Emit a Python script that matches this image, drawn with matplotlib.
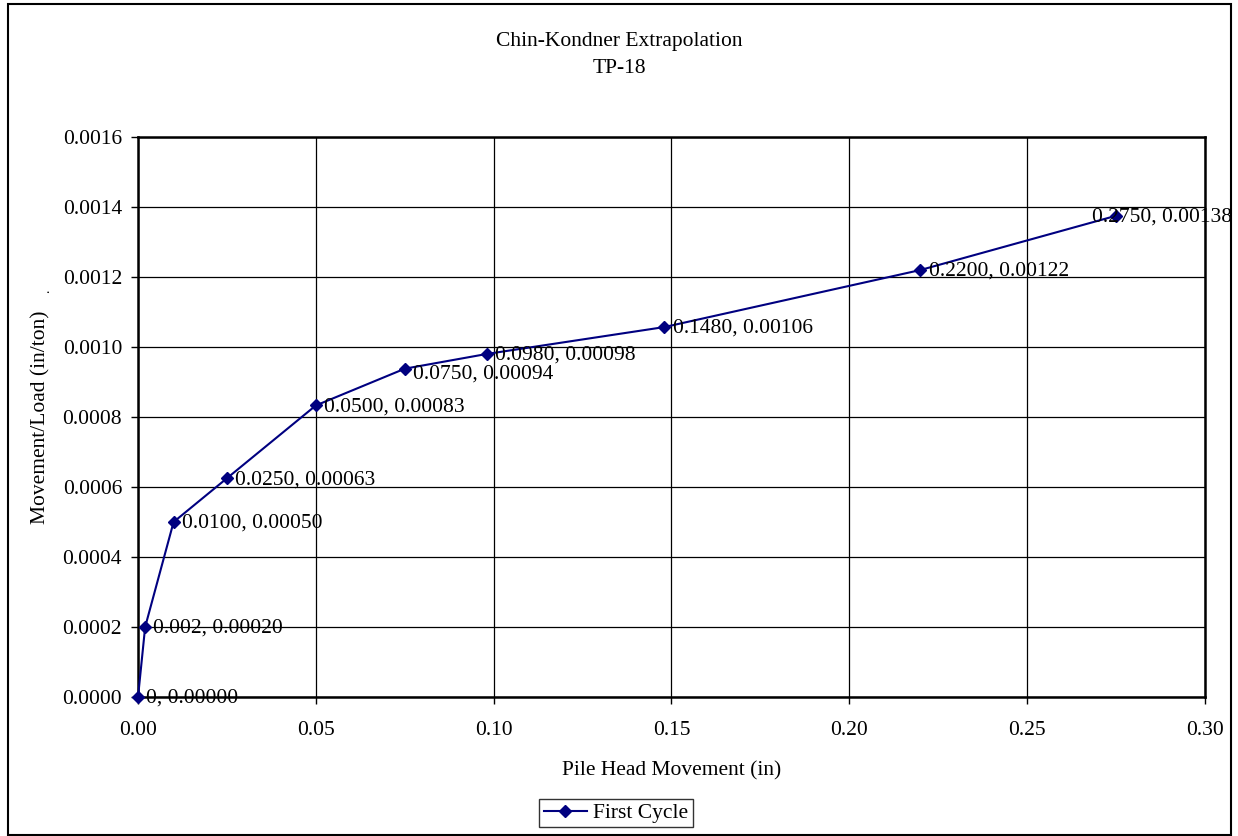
#chin_kondner_extrapolation
import matplotlib.pyplot as plt
from matplotlib.patches import Rectangle

plt.rcParams['font.family'] = ['Liberation Serif', 'DejaVu Serif']

#Data
movement = [0, 0.002, 0.010, 0.025, 0.050, 0.075, 0.098, 0.148, 0.220, 0.275]
ratio = [0, 0.00020, 0.00050, 0.000625, 0.000833, 0.000938, 0.00098, 0.001057, 0.00122, 0.001375]
point_labels = ["0, 0.00000", "0.002, 0.00020", "0.0100, 0.00050", "0.0250, 0.00063",
                "0.0500, 0.00083", "0.0750, 0.00094", "0.0980, 0.00098", "0.1480, 0.00106",
                "0.2200, 0.00122", "0.2750, 0.00138"]
xticks = [0.00, 0.05, 0.10, 0.15, 0.20, 0.25, 0.30]
yticks = [0.0000, 0.0002, 0.0004, 0.0006, 0.0008, 0.0010, 0.0012, 0.0014, 0.0016]

FS = 15.5

fig = plt.figure(figsize=(12.38, 8.36), dpi=100)
ax = fig.add_axes([0.1115, 0.1663, 0.8618, 0.6698])

ax.plot(movement, ratio, color='#000080', lw=1.5, marker='D', ms=6.5,
        label='First Cycle', clip_on=False, zorder=3)

#point labels: right of marker, last one pulled left like Excel does
for i, (x, y, s) in enumerate(zip(movement, ratio, point_labels)):
    dx, dy = 6, -1
    if i == 5:
        dy = -4
    if i == len(movement) - 1:
        dx = -17
    ax.annotate(s, (x, y), xytext=(dx, dy), textcoords='offset points',
                ha='left', va='center', fontsize=FS, annotation_clip=False, zorder=4)

ax.set_xlim(0, 0.30)
ax.set_ylim(0, 0.0016)
ax.set_xticks(xticks)
ax.set_yticks(yticks)
ax.set_xticklabels([f"{t:.2f}" for t in xticks])
ax.set_yticklabels([f"{t:.4f}" for t in yticks])
ax.tick_params(direction='out', length=5, width=1, labelsize=FS)
ax.tick_params(axis='x', pad=12)
ax.tick_params(axis='y', pad=6.5)
ax.grid(True, color='black', lw=0.9)
ax.set_axisbelow(True)
for sp in ax.spines.values():
    sp.set_linewidth(1.8)

ax.set_xlabel("Pile Head Movement (in)", fontsize=FS)
ax.set_ylabel("Movement/Load (in/ton)", fontsize=FS)
ax.xaxis.set_label_coords(0.5, -0.114)
ax.yaxis.set_label_coords(-0.0825, 0.5)
fig.text(0.5005, 0.9505, "Chin-Kondner Extrapolation", ha='center', va='center', fontsize=FS)
fig.text(0.5005, 0.9175, "TP-18", ha='center', va='center', fontsize=FS)
fig.text(0.037, 0.652, ".", ha='center', va='center', fontsize=10, rotation=90)

leg = fig.legend(loc='center', bbox_to_anchor=(0.4975, 0.0275), fontsize=FS,
                 frameon=True, fancybox=False, edgecolor='black',
                 borderpad=0.2, handlelength=2.0, handletextpad=0.3)
leg.get_frame().set_linewidth(1.0)

#outer chart border
fig.patches.append(Rectangle((0.0065, 0.001), 0.988, 0.994, transform=fig.transFigure,
                             fill=False, edgecolor='black', lw=1.5))

plt.savefig("out.png", dpi=100)
